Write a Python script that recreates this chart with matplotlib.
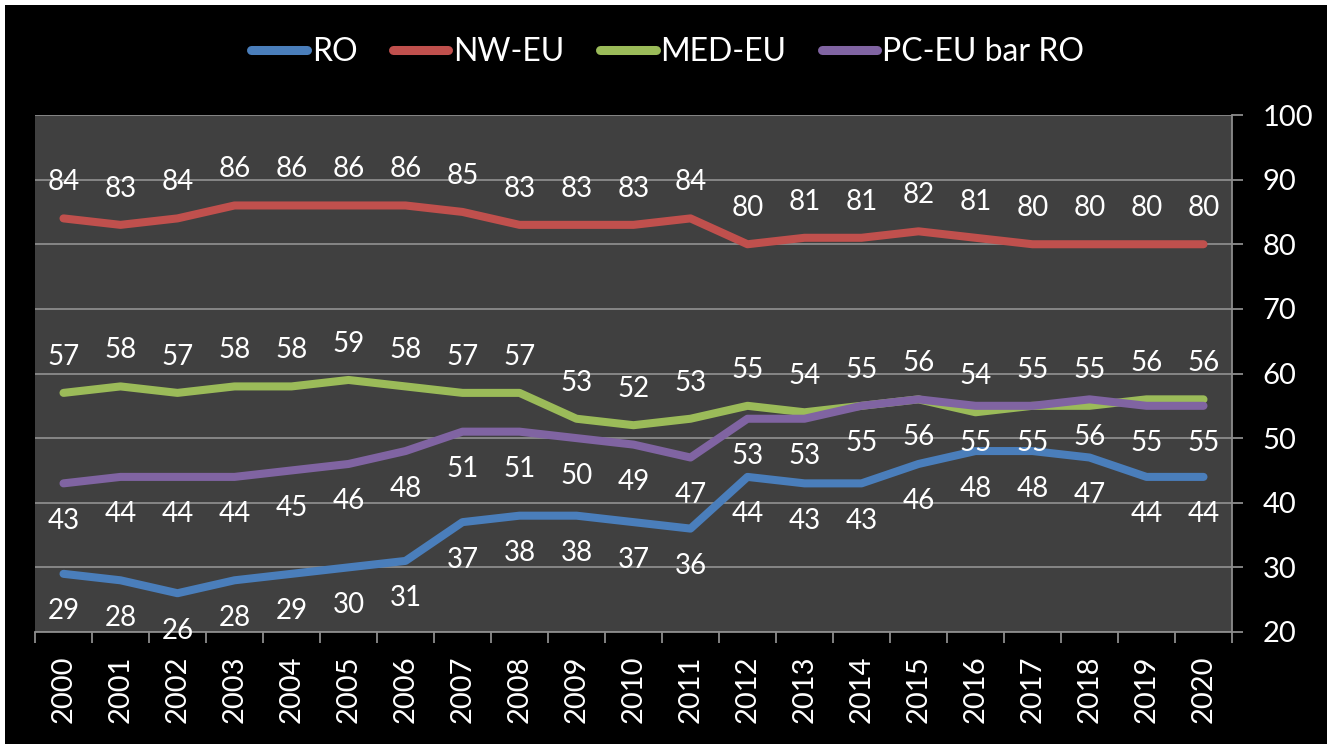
import matplotlib
matplotlib.use('Agg')
import matplotlib.pyplot as plt
from matplotlib.patches import Rectangle
import numpy as np

plt.rcParams['font.family'] = ['Lato', 'DejaVu Sans']

# dane
years = [str(y) for y in range(2000, 2021)]
ro = [29, 28, 26, 28, 29, 30, 31, 37, 38, 38, 37, 36, 44, 43, 43, 46, 48, 48, 47, 44, 44]
nw_eu = [84, 83, 84, 86, 86, 86, 86, 85, 83, 83, 83, 84, 80, 81, 81, 82, 81, 80, 80, 80, 80]
med_eu = [57, 58, 57, 58, 58, 59, 58, 57, 57, 53, 52, 53, 55, 54, 55, 56, 54, 55, 55, 56, 56]
pc_eu = [43, 44, 44, 44, 45, 46, 48, 51, 51, 50, 49, 47, 53, 53, 55, 56, 55, 55, 56, 55, 55]

series = [
    ('RO', ro, '#4a7ebb', 'below'),
    ('NW-EU', nw_eu, '#c0504d', 'above'),
    ('MED-EU', med_eu, '#9bbb59', 'above'),
    ('PC-EU bar RO', pc_eu, '#8064a2', 'below'),
]

W, H = 1330, 747
fig = plt.figure(figsize=(W / 100, H / 100), dpi=100, facecolor='white')
# czarne tlo z biala ramka
fig.patches.append(Rectangle((5 / W, 3 / H), 1322 / W, 739 / H, transform=fig.transFigure,
                             facecolor='black', edgecolor='none', zorder=-10))

ax = fig.add_axes([35 / W, 1 - 632 / H, 1197 / W, 517 / H])
ax.set_facecolor('#404040')

x = np.arange(len(years))
for name, vals, col, pos in series:
    ax.plot(x, vals, color=col, lw=5.8, solid_capstyle='round', solid_joinstyle='round',
            label=name, zorder=3)
    dy = 26 if pos == 'above' else -27
    for xi, v in zip(x, vals):
        ax.annotate(str(v), (xi, v), xytext=(0, dy), textcoords='offset points',
                    ha='center', va='center', color='white', fontsize=20, zorder=4)

ax.set_xlim(-0.5, len(years) - 0.5)
ax.set_ylim(20, 100)
ax.yaxis.tick_right()
ax.set_yticks(range(20, 101, 10))
ax.grid(axis='y', color='#8c8c8c', lw=1.3, zorder=1)
ax.tick_params(axis='y', colors='#8c8c8c', length=8, width=1.3, pad=14,
               labelcolor='white', labelsize=21)

ax.set_xticks(x)
ax.set_xticklabels(years, rotation=90, color='white', fontsize=21)
ax.set_xticks(np.arange(-0.5, len(years)), minor=True)
ax.tick_params(axis='x', which='major', length=0, pad=17)
ax.tick_params(axis='x', which='minor', length=8, width=1.3, colors='#8c8c8c')

for s in ['top', 'left']:
    ax.spines[s].set_visible(False)
for s in ['bottom', 'right']:
    ax.spines[s].set_color('#8c8c8c')
    ax.spines[s].set_linewidth(1.3)

leg = fig.legend(loc='center', bbox_to_anchor=(0.502, 1 - 52 / H), ncol=4, frameon=False,
                 fontsize=23, handlelength=1.75, handletextpad=0.15, columnspacing=1.1,
                 labelcolor='white')
for h in leg.get_lines():
    h.set_linewidth(6.5)
    h.set_solid_capstyle('round')

fig.savefig('out.png', dpi=100, facecolor='white')
